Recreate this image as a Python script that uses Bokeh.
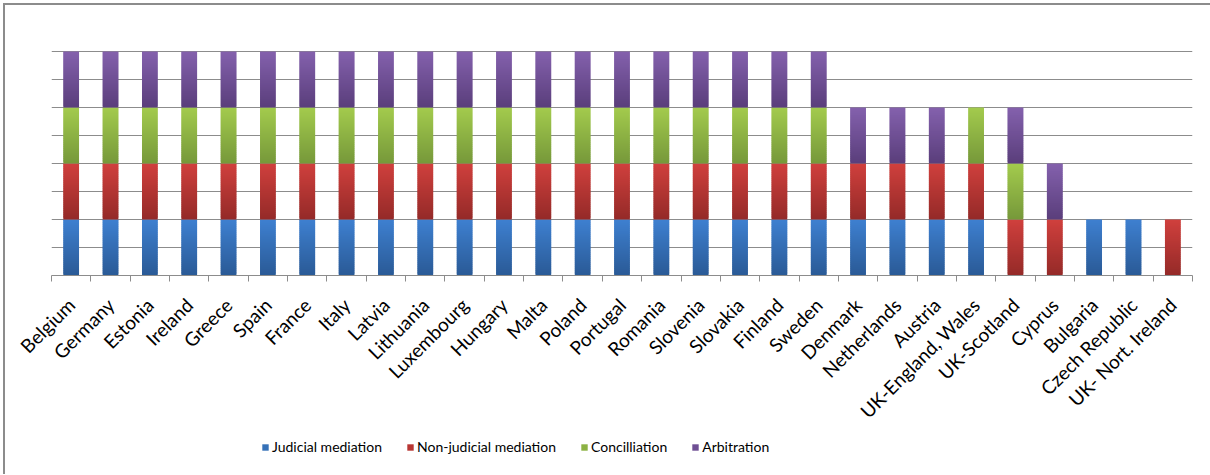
import numpy as np
from bokeh.plotting import figure
from bokeh.layouts import column
from bokeh.models import Range1d, FixedTicker, Legend, LegendItem, ColumnDataSource
from bokeh.embed import file_html
from bokeh.resources import INLINE

countries = ["Belgium", "Germany", "Estonia", "Ireland", "Greece", "Spain", "France",
             "Italy", "Latvia", "Lithuania", "Luxembourg", "Hungary", "Malta", "Poland",
             "Portugal", "Romania", "Slovenia", "Slovakia", "Finland", "Sweden",
             "Denmark", "Netherlands", "Austria", "UK-England, Wales", "UK-Scotland",
             "Cyprus", "Bulgaria", "Czech Republic", "UK- Nort. Ireland"]
judicial_mediation     = [1]*20 + [1, 1, 1, 1, 0, 0, 1, 1, 0]
non_judicial_mediation = [1]*20 + [1, 1, 1, 1, 1, 1, 0, 0, 1]
concilliation          = [1]*20 + [0, 0, 0, 1, 1, 0, 0, 0, 0]
arbitration            = [1]*20 + [1, 1, 1, 0, 1, 1, 0, 0, 0]
series_names = ["Judicial mediation", "Non-judicial mediation", "Concilliation", "Arbitration"]
series_values = [judicial_mediation, non_judicial_mediation, concilliation, arbitration]
grid_ticks = [0, 0.5, 1, 1.5, 2, 2.5, 3, 3.5, 4]

# gradient colours (top, bottom) per series
grad = [((0x3e, 0x80, 0xd0), (0x2a, 0x5a, 0x96)),
        ((0xd0, 0x40, 0x3d), (0x94, 0x2a, 0x28)),
        ((0xa3, 0xcb, 0x4d), (0x76, 0x98, 0x3a)),
        ((0x84, 0x61, 0xad), (0x5a, 0x3e, 0x7b))]
legend_colors = ["#3671b8", "#b83633", "#8cb243", "#6f4f94"]

n = len(countries)
p = figure(width=1210, height=435, x_range=Range1d(0, n), y_range=Range1d(0, 4.02),
           output_backend="svg", toolbar_location=None,
           min_border_left=51, min_border_right=18, min_border_top=50, min_border_bottom=160)
p.outline_line_color = None
p.background_fill_color = "white"
p.border_fill_alpha = 0

NB = 28
centers = [i + 0.5 for i in range(n)]
base = np.zeros(n)
for s, (name, vals) in enumerate(zip(series_names, series_values)):
    top_c, bot_c = grad[s]
    xs, bs, ts, cs = [], [], [], []
    for i in range(n):
        v = vals[i]
        if v <= 0:
            continue
        b0 = base[i]
        for k in range(NB):
            t = (k + 0.5) / NB
            col = tuple(int(round(bot_c[j] + (top_c[j] - bot_c[j]) * t)) for j in range(3))
            xs.append(centers[i])
            bs.append(b0 + v * k / NB)
            ts.append(b0 + v * min(k + 1.6, NB) / NB)
            cs.append("#%02x%02x%02x" % col)
        base[i] += v
    src = ColumnDataSource(dict(x=xs, bottom=bs, top=ts, color=cs))
    p.vbar(x="x", width=0.40, bottom="bottom", top="top", source=src,
           fill_color="color", line_color=None)

# axes
p.yaxis.visible = False
p.xgrid.visible = False
p.ygrid.ticker = FixedTicker(ticks=grid_ticks)
p.ygrid.grid_line_color = "#8c8c8c"
p.ygrid.grid_line_width = 1

xa = p.xaxis[0]
xa.ticker = FixedTicker(ticks=centers, minor_ticks=list(range(n + 1)))
xa.major_label_overrides = {c: name for c, name in zip(centers, countries)}
xa.major_label_orientation = np.pi / 4
xa.major_label_text_font = "Lato"
xa.major_label_text_font_size = "19px"
xa.major_label_text_color = "#000000"
xa.major_label_standoff = 20
xa.major_tick_out = 0
xa.major_tick_in = 0
xa.minor_tick_out = 6
xa.minor_tick_in = 0
xa.minor_tick_line_color = "#8c8c8c"
xa.axis_line_color = "#8c8c8c"

# legend strip (zero-height proxy bars carry the legend swatches)
q = figure(width=1210, height=39, x_range=Range1d(0, 1), y_range=Range1d(0, 1),
           output_backend="svg", toolbar_location=None,
           min_border_left=0, min_border_right=0, min_border_top=0, min_border_bottom=0)
q.axis.visible = False
q.grid.visible = False
q.outline_line_color = None
q.background_fill_alpha = 0
q.border_fill_alpha = 0
items = []
for name, col in zip(series_names, legend_colors):
    r = q.vbar(x=[0.5], bottom=[0], top=[0], width=0.0, fill_color=col, line_color=None)
    items.append(LegendItem(label=name, renderers=[r]))
legend = Legend(items=items, orientation="horizontal", location=(210, 19),
                glyph_width=8, glyph_height=8, label_standoff=3, spacing=24,
                padding=0, margin=0, border_line_color=None, background_fill_alpha=0,
                label_text_font="Lato", label_text_font_size="14px",
                label_text_color="#000000")
q.add_layout(legend)

layout = column(p, q, spacing=0,
                styles={"box-shadow": "inset 3px 3px 0 0 #ffffff, inset 5px 5px 0 0 #8c8c8c"})

open("out.html", "w").write(file_html(layout, INLINE))
